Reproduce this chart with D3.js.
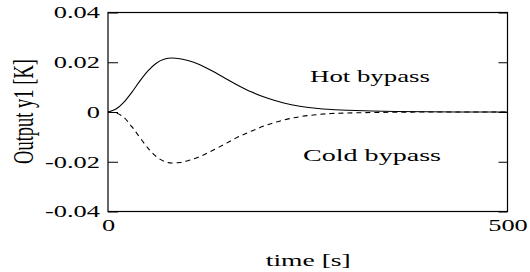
<!DOCTYPE html>
<html>
<head>
<meta charset="utf-8">
<script src="https://cdn.jsdelivr.net/npm/d3@7"></script>
<style>
  body { margin: 0; background: #fff; }
  svg text { font-family: "Liberation Serif", "Times New Roman", "DejaVu Serif", serif; }
</style>
</head>
<body>
<div id="chart"></div>
<script>
// simulation output
const time = [0, 10, 20, 30, 40, 50, 60, 70, 80, 90, 100, 115, 130, 145, 160, 180, 200, 220, 240, 260, 280, 300, 330, 360, 400, 450, 500];
const hotBypass = [0, 0.0012, 0.0040, 0.0080, 0.0125, 0.0165, 0.0195, 0.0212, 0.0217, 0.0214, 0.0207, 0.0190, 0.0166, 0.0139, 0.0112, 0.0080, 0.0055, 0.0036, 0.0023, 0.0015, 0.0010, 0.0007, 0.0004, 0.0002, 0.0001, 0, 0];
const coldBypass = [0, -0.0004, -0.0022, -0.0060, -0.0103, -0.0145, -0.0178, -0.0198, -0.0205, -0.0203, -0.0196, -0.0179, -0.0156, -0.0131, -0.0105, -0.0076, -0.0051, -0.0032, -0.0019, -0.0011, -0.0006, -0.0004, -0.0002, -0.0001, 0, 0, 0];

const yTicks = [-0.04, -0.02, 0, 0.02, 0.04];
const yTickLabels = ["-0.04", "-0.02", "0", "0.02", "0.04"];
const xTicks = [0, 500];
const xTickLabels = ["0", "500"];

const width = 530, height = 272;
const margin = { top: 12.5, right: 22.5, bottom: 60.5, left: 108 };
const stretch = 1.65; // original figure was stretched sideways, so is its text

const svg = d3.select("#chart")
    .append("svg")
    .attr("width", width)
    .attr("height", height);

const x = d3.scaleLinear().domain([0, 500]).range([margin.left, width - margin.right]);
const y = d3.scaleLinear().domain([-0.04, 0.04]).range([height - margin.bottom, margin.top]);

// widen a text to its stretched length
const widen = (sel, size) => sel
    .style("font-size", size + "px")
    .style("font-family", "'Liberation Serif', 'Times New Roman', serif")
    .attr("fill", "#000")
    .attr("lengthAdjust", "spacingAndGlyphs")
    .attr("textLength", function () { return this.getComputedTextLength() * stretch; });

// inward ticks, left and right
const yAxis = svg.append("g")
    .attr("transform", `translate(${x(0)},0)`)
    .call(d3.axisLeft(y).tickValues(yTicks).tickSizeInner(-10).tickSizeOuter(0)
        .tickFormat((d, i) => yTickLabels[i]));
yAxis.select(".domain").remove();
yAxis.selectAll("line").attr("stroke", "#000");
yAxis.selectAll("text")
    .attr("x", -8)
    .attr("dy", "0.34em")
    .call(widen, 16);

const yAxisRight = svg.append("g")
    .attr("transform", `translate(${x(500)},0)`)
    .call(d3.axisRight(y).tickValues(yTicks).tickSizeInner(-9).tickSizeOuter(0).tickFormat(""));
yAxisRight.select(".domain").remove();
yAxisRight.selectAll("line").attr("stroke", "#000");

const xAxis = svg.append("g")
    .attr("transform", `translate(0,${y(-0.04)})`)
    .call(d3.axisBottom(x).tickValues(xTicks).tickSize(0)
        .tickFormat((d, i) => xTickLabels[i]));
xAxis.select(".domain").remove();
xAxis.selectAll("text")
    .attr("y", 19)
    .attr("dy", 0)
    .call(widen, 16);

// frame
svg.append("rect")
    .attr("x", x(0))
    .attr("y", y(0.04))
    .attr("width", x(500) - x(0))
    .attr("height", y(-0.04) - y(0.04))
    .attr("fill", "none")
    .attr("stroke", "#000")
    .attr("stroke-width", 1.2);

const line = d3.line()
    .x((d, i) => x(time[i]))
    .y(d => y(d))
    .curve(d3.curveMonotoneX);

svg.append("path")
    .datum(hotBypass)
    .attr("d", line)
    .attr("fill", "none")
    .attr("stroke", "#000")
    .attr("stroke-width", 1.1);

svg.append("path")
    .datum(coldBypass)
    .attr("d", line)
    .attr("fill", "none")
    .attr("stroke", "#000")
    .attr("stroke-width", 1.1)
    .attr("stroke-dasharray", "5,4");

// labels
const label = (txt, px, py, len) => svg.append("text")
    .attr("x", px)
    .attr("y", py)
    .style("font-size", "16px")
    .style("font-family", "'Liberation Serif', 'Times New Roman', serif")
    .attr("fill", "#000")
    .attr("lengthAdjust", "spacingAndGlyphs")
    .attr("textLength", len)
    .text(txt);

label("Hot bypass", 310, 82, 120);
label("Cold bypass", 303, 161, 138);
label("time [s]", (x(0) + x(500)) / 2 - 42, 266, 85);

svg.append("text")
    .attr("transform", `translate(33,${y(0)}) rotate(-90)`)
    .attr("x", -52)
    .style("font-size", "29px")
    .style("font-family", "'Liberation Serif', 'Times New Roman', serif")
    .attr("fill", "#000")
    .attr("lengthAdjust", "spacingAndGlyphs")
    .attr("textLength", 105)
    .text("Output y1 [K]");
</script>
</body>
</html>
